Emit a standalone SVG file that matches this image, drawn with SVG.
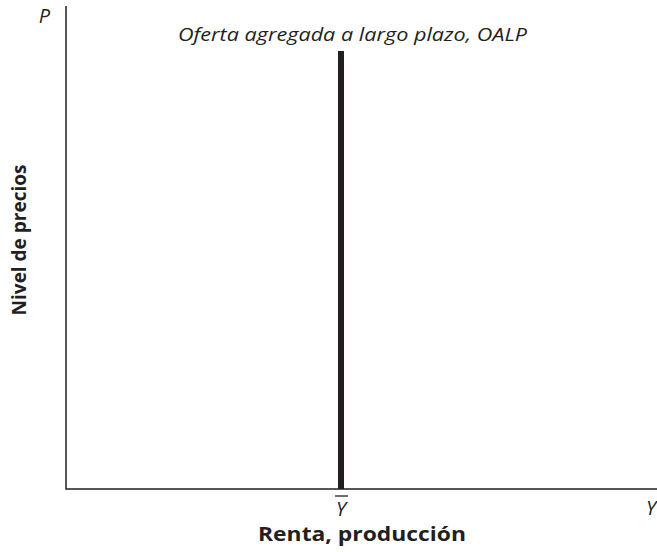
<svg xmlns="http://www.w3.org/2000/svg" width="657" height="552" viewBox="0 0 657 552">
<style>
.it{font-family:"Open Sans","Liberation Sans",sans-serif;font-style:italic;fill:#231f20;}
.bd{font-family:"Open Sans","Liberation Sans",sans-serif;font-weight:bold;fill:#231f20;font-size:19px;}
.ax{stroke:#231f20;stroke-width:1.5;fill:none;}
</style>
<rect width="657" height="552" fill="#fff"/>
<g id="axes">
<path class="ax" d="M66,6 V489 H657"/>
<text class="it" x="50" y="23" font-size="20" text-anchor="end">P</text>
<text class="it" x="651" y="515" font-size="20" text-anchor="middle">Y</text>
<text class="bd" x="258" y="541" font-size="20" textLength="208" lengthAdjust="spacingAndGlyphs">Renta, producción</text>
<text class="bd" transform="translate(26,240) rotate(-90)" text-anchor="middle">Nivel de precios</text>
</g>
<g id="oalp">
<line x1="341" y1="51" x2="341" y2="489" stroke="#231f20" stroke-width="6"/>
<text class="it" x="178" y="41" font-size="19" textLength="349" lengthAdjust="spacingAndGlyphs">Oferta agregada a largo plazo, OALP</text>
</g>
<g id="ybar">
<line x1="335" y1="496" x2="348" y2="496" stroke="#231f20" stroke-width="1.3"/>
<text class="it" x="341" y="516" font-size="20" text-anchor="middle">Y</text>
</g>
</svg>
